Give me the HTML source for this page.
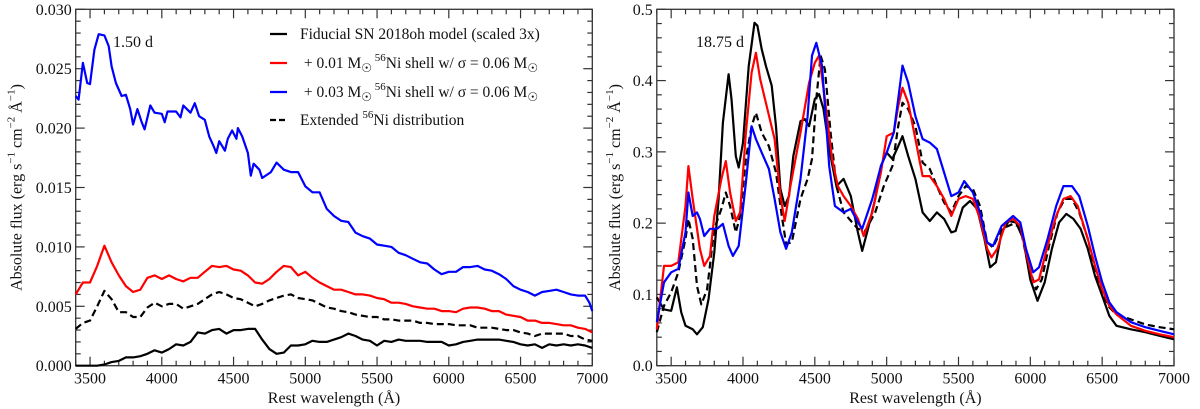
<!DOCTYPE html>
<html><head><meta charset="utf-8"><style>
html,body{margin:0;padding:0;background:#fff;}
svg{display:block;font-family:"Liberation Serif",serif;}
.pre{white-space:pre;}
</style></head><body>
<svg id="chart" width="1200" height="409" viewBox="0 0 1200 409" xmlns="http://www.w3.org/2000/svg"></svg>
<script>
// ---- Left panel data (1.50 d) ----
const leftWave = [3400,3450,3500,3550,3600,3650,3700,3750,3800,3850,3900,3950,4000,4050,4100,4150,4200,4250,4300,4350,4400,4450,4500,4550,4600,4650,4700,4750,4800,4850,4900,4950,5000,5050,5100,5150,5200,5250,5300,5350,5400,5450,5500,5550,5600,5650,5700,5750,5800,5850,5900,5950,6000,6050,6100,6150,6200,6250,6300,6350,6400,6450,6500,6550,6600,6650,6700,6750,6800,6850,6900,6950,7000];
const leftBlueWave = [3400,3420,3450,3480,3500,3530,3560,3600,3630,3650,3680,3720,3750,3780,3800,3830,3860,3880,3920,3950,4000,4020,4040,4100,4130,4150,4200,4230,4260,4300,4330,4360,4380,4400,4420,4440,4460,4490,4520,4530,4560,4600,4620,4640,4680,4700,4760,4800,4850,4900,4950,5000,5050,5100,5150,5200,5250,5300,5350,5400,5450,5500,5550,5600,5650,5700,5750,5800,5850,5900,5950,6000,6050,6100,6150,6200,6250,6300,6350,6400,6450,6500,6550,6600,6650,6700,6750,6800,6850,6900,6950,6980,7000];
const leftBlue = [0.0227,0.0224,0.0255,0.0238,0.0237,0.0266,0.0279,0.0278,0.0269,0.0252,0.0238,0.0227,0.0228,0.0216,0.0203,0.0216,0.0205,0.0199,0.0219,0.0213,0.0212,0.0205,0.0214,0.0214,0.0209,0.0219,0.0213,0.0221,0.021,0.0207,0.0193,0.0185,0.0179,0.0189,0.0185,0.0181,0.0191,0.0198,0.0191,0.02,0.0193,0.0179,0.016,0.017,0.0165,0.0158,0.0163,0.0171,0.0165,0.0163,0.0163,0.0151,0.0146,0.0146,0.0132,0.0126,0.0122,0.0121,0.0112,0.0109,0.0107,0.0102,0.0101,0.01,0.0095,0.0093,0.009,0.0087,0.0086,0.0081,0.0077,0.0079,0.0079,0.0083,0.0083,0.0084,0.0081,0.008,0.0077,0.0073,0.0067,0.0064,0.0062,0.0059,0.0062,0.0063,0.0064,0.0062,0.006,0.0059,0.0059,0.0053,0.0046];
const leftRed = [0.006,0.007,0.007,0.0084,0.0101,0.0087,0.0076,0.0067,0.0062,0.0064,0.0074,0.0076,0.0073,0.0076,0.0073,0.0071,0.0074,0.0074,0.0079,0.0084,0.0083,0.0084,0.0081,0.008,0.0076,0.007,0.0069,0.0073,0.0079,0.0084,0.0083,0.0076,0.0079,0.0074,0.007,0.0067,0.0064,0.0064,0.0062,0.006,0.006,0.0059,0.0057,0.0056,0.0053,0.0053,0.0052,0.005,0.0049,0.0048,0.0048,0.0046,0.0046,0.0045,0.0048,0.0049,0.0049,0.0048,0.0046,0.0046,0.0043,0.0042,0.0041,0.0038,0.0038,0.0036,0.0036,0.0035,0.0034,0.0034,0.0032,0.0031,0.0028];
const leftDash = [0.0031,0.0036,0.0038,0.005,0.0063,0.0056,0.0045,0.0045,0.0041,0.0041,0.0049,0.0053,0.005,0.0052,0.0052,0.0048,0.005,0.0052,0.0056,0.006,0.0062,0.006,0.0057,0.0056,0.0053,0.005,0.0052,0.0055,0.0057,0.0059,0.006,0.0057,0.0056,0.0055,0.0052,0.0049,0.0048,0.0046,0.0045,0.0043,0.0042,0.0041,0.0041,0.0039,0.0039,0.0038,0.0038,0.0038,0.0036,0.0036,0.0035,0.0035,0.0035,0.0034,0.0034,0.0034,0.0032,0.0032,0.0032,0.0031,0.003,0.003,0.0028,0.0027,0.0025,0.0027,0.0027,0.0027,0.0027,0.0025,0.0025,0.0022,0.0021];
const leftBlack = [0,0,0,0,0.0001,0.0003,0.0004,0.0007,0.0007,0.0008,0.001,0.0013,0.0011,0.0014,0.0018,0.0017,0.002,0.0028,0.0027,0.003,0.0031,0.0027,0.003,0.003,0.0031,0.0031,0.0022,0.0014,0.001,0.0011,0.0017,0.0017,0.0018,0.0021,0.002,0.002,0.0022,0.0024,0.0027,0.0025,0.0022,0.0021,0.0017,0.0021,0.002,0.0022,0.0021,0.0021,0.0021,0.002,0.002,0.002,0.0017,0.0018,0.002,0.0021,0.0022,0.0022,0.0022,0.0022,0.0021,0.002,0.0018,0.0017,0.0018,0.0015,0.0018,0.0017,0.0018,0.0017,0.0018,0.0017,0.0015];
const leftYTicks = [0,0.005,0.01,0.015,0.02,0.025,0.03];
const leftYLabels = ["0.000","0.005","0.010","0.015","0.020","0.025","0.030"];

// ---- Right panel data (18.75 d) ----
const rBlackWave = [3400,3450,3500,3540,3570,3600,3650,3680,3720,3760,3800,3830,3860,3900,3920,3950,3970,4000,4040,4080,4100,4130,4160,4200,4230,4260,4290,4320,4350,4400,4430,4460,4500,4530,4560,4600,4650,4700,4750,4800,4830,4870,4920,4960,5000,5040,5080,5110,5150,5200,5250,5300,5350,5400,5450,5480,5530,5580,5630,5680,5720,5760,5800,5850,5900,5950,6000,6050,6100,6150,6200,6250,6300,6350,6400,6450,6500,6550,6600,6700,6800,6900,7000];
const rBlack = [0.096,0.079,0.077,0.11,0.075,0.056,0.051,0.044,0.054,0.093,0.159,0.234,0.341,0.409,0.374,0.294,0.278,0.313,0.42,0.481,0.477,0.444,0.42,0.393,0.336,0.248,0.224,0.238,0.294,0.343,0.346,0.336,0.374,0.381,0.36,0.304,0.252,0.262,0.238,0.187,0.161,0.192,0.234,0.28,0.299,0.29,0.308,0.322,0.294,0.262,0.215,0.203,0.215,0.206,0.187,0.189,0.222,0.231,0.22,0.178,0.138,0.145,0.187,0.203,0.201,0.178,0.121,0.091,0.117,0.164,0.201,0.213,0.206,0.192,0.164,0.126,0.098,0.07,0.056,0.051,0.047,0.042,0.037];
const rRedWave = [3400,3450,3500,3550,3600,3620,3650,3700,3730,3770,3800,3850,3880,3910,3950,3980,4020,4060,4090,4120,4170,4220,4260,4290,4330,4400,4460,4500,4530,4570,4620,4660,4700,4750,4800,4840,4900,4960,5000,5050,5080,5110,5150,5200,5250,5300,5350,5400,5450,5500,5550,5600,5650,5700,5730,5770,5830,5880,5930,5970,6020,6060,6120,6180,6230,6280,6330,6400,6450,6500,6550,6600,6700,6800,6900,7000];
const rRed = [0.051,0.14,0.14,0.145,0.224,0.28,0.234,0.164,0.14,0.154,0.21,0.262,0.287,0.243,0.203,0.215,0.327,0.411,0.439,0.402,0.36,0.318,0.238,0.203,0.252,0.327,0.397,0.425,0.435,0.374,0.29,0.252,0.238,0.224,0.206,0.182,0.215,0.271,0.322,0.327,0.364,0.39,0.369,0.318,0.266,0.266,0.252,0.234,0.21,0.234,0.238,0.234,0.206,0.164,0.152,0.164,0.201,0.206,0.196,0.159,0.117,0.121,0.168,0.21,0.234,0.238,0.224,0.178,0.14,0.107,0.084,0.072,0.056,0.049,0.044,0.04];
const rBlueWave = [3400,3450,3500,3550,3600,3620,3650,3680,3700,3730,3770,3820,3860,3900,3930,3970,4020,4060,4090,4130,4180,4220,4260,4300,4340,4400,4450,4480,4510,4550,4600,4640,4700,4750,4800,4830,4900,4960,5000,5050,5080,5110,5150,5200,5250,5300,5350,5400,5450,5500,5540,5600,5650,5700,5740,5800,5880,5930,5970,6020,6060,6120,6180,6230,6290,6340,6400,6450,6500,6550,6600,6700,6800,6900,7000];
const rBlue = [0.061,0.117,0.131,0.136,0.187,0.243,0.21,0.215,0.206,0.182,0.192,0.192,0.199,0.168,0.154,0.168,0.257,0.336,0.318,0.299,0.276,0.234,0.187,0.164,0.187,0.262,0.35,0.435,0.453,0.421,0.28,0.224,0.215,0.22,0.201,0.192,0.234,0.28,0.299,0.327,0.374,0.421,0.397,0.35,0.318,0.313,0.304,0.271,0.238,0.243,0.259,0.243,0.215,0.173,0.168,0.196,0.21,0.201,0.164,0.131,0.138,0.178,0.224,0.252,0.252,0.238,0.196,0.154,0.117,0.089,0.075,0.061,0.054,0.049,0.044];
const rDashWave = [3400,3450,3500,3550,3600,3620,3650,3680,3710,3750,3800,3850,3880,3910,3950,3980,4020,4060,4090,4130,4180,4230,4270,4300,4340,4400,4450,4480,4510,4540,4570,4610,4650,4700,4760,4800,4850,4920,4980,5040,5080,5110,5150,5200,5250,5300,5350,5400,5450,5500,5550,5600,5650,5700,5740,5800,5880,5930,5980,6040,6080,6130,6190,6240,6290,6340,6400,6450,6500,6550,6600,6700,6800,6900,7000];
const rDash = [0.047,0.084,0.103,0.131,0.178,0.206,0.178,0.112,0.086,0.107,0.192,0.22,0.243,0.224,0.187,0.21,0.29,0.336,0.355,0.327,0.308,0.271,0.21,0.171,0.173,0.234,0.262,0.29,0.374,0.435,0.416,0.327,0.252,0.215,0.201,0.192,0.189,0.215,0.252,0.28,0.336,0.369,0.36,0.336,0.285,0.276,0.252,0.229,0.215,0.238,0.252,0.248,0.224,0.173,0.166,0.192,0.199,0.194,0.145,0.107,0.121,0.168,0.215,0.234,0.234,0.215,0.178,0.136,0.103,0.082,0.072,0.065,0.058,0.054,0.051];
const rightYTicks = [0,0.1,0.2,0.3,0.4,0.5];
const rightYLabels = ["0.0","0.1","0.2","0.3","0.4","0.5"];
const xTicks = [3500,4000,4500,5000,5500,6000,6500,7000];

const NS = "http://www.w3.org/2000/svg";
const svgEl = document.getElementById('chart');
function mk(tag, attrs, parent){ const e=document.createElementNS(NS,tag); for(const k in attrs) e.setAttribute(k,attrs[k]); (parent||svgEl).appendChild(e); return e; }

const plotTop=9.3, plotBot=365.7;
function makePanel(name, x0, x1, ymax, yTicks, yLabels, yMinor, titleOff){
  const g = mk('g',{});
  
  
  const sx = w => x0 + (w-3400)/3600*(x1-x0);
  const sy = v => plotBot - v/ymax*(plotBot-plotTop);
  for(let w=3400; w<=7000; w+=100){
    const major = w%500===0;
    const L = major?9:5;
    const t1 = mk('line',{x1:sx(w),x2:sx(w),y1:plotBot,y2:plotBot-L,stroke:'#333','stroke-width':1.2},g);
    
    
    const t2 = mk('line',{x1:sx(w),x2:sx(w),y1:plotTop,y2:plotTop+L,stroke:'#333','stroke-width':1.2},g);
    
    
  }
  xTicks.forEach(w=>{
    const t = mk('text',{x:sx(w),y:plotBot+18,'text-anchor':'middle','font-size':16,fill:'#111'},g);
    t.textContent = w;
    
    
  });
  const n = Math.round(ymax/yMinor);
  for(let i=0;i<=n;i++){
    const v=i*yMinor;
    const major = yTicks.some(t=>Math.abs(t-v)<1e-9);
    const L = major?9:5;
    const a = mk('line',{x1:x0,x2:x0+L,y1:sy(v),y2:sy(v),stroke:'#333','stroke-width':1.2},g);
    
    
    const b = mk('line',{x1:x1,x2:x1-L,y1:sy(v),y2:sy(v),stroke:'#333','stroke-width':1.2},g);
    
    
  }
  yTicks.forEach((v,i)=>{
    const t = mk('text',{x:x0-4,y:sy(v)+5.5,'text-anchor':'end','font-size':16,fill:'#111'},g);
    t.textContent = yLabels[i];
    
    
  });
  const fr = mk('rect',{x:x0,y:plotTop,width:x1-x0,height:plotBot-plotTop,fill:'none',stroke:'#333','stroke-width':1.3},g);
  
  
  const xt = mk('text',{x:(x0+x1)/2,y:403,'text-anchor':'middle','font-size':16,fill:'#111'},g);
  xt.textContent = 'Rest wavelength (Å)';
  
  
  const yt = mk('text',{x:0,y:0,'text-anchor':'middle','font-size':16,fill:'#111',transform:'translate('+(x0-titleOff)+','+((plotTop+plotBot)/2)+') rotate(-90)'},g);
  yt.innerHTML = 'Absolute flux (erg s<tspan dy="-7" font-size="11">−1</tspan><tspan dy="7"> cm</tspan><tspan dy="-7" font-size="11">−2</tspan><tspan dy="7"> Å</tspan><tspan dy="-7" font-size="11">−1</tspan><tspan dy="7">)</tspan>';
  
  
  return {g:g,sx:sx,sy:sy};
}
function series(p, waves, vals, color, dash, name){
  const d = waves.map((w,i)=>(i?'L':'M')+p.sx(w).toFixed(1)+' '+p.sy(vals[i]).toFixed(1)).join(' ');
  const a = {d:d, fill:'none', stroke:color, 'stroke-width':2.2, 'stroke-linejoin':'round'};
  if(dash) a['stroke-dasharray']='7 4';
  const e = mk('path', a, p.g);
  
  
}

const LP = makePanel('left-panel', 75.7, 592.3, 0.03, leftYTicks, leftYLabels, 0.001, 54);
series(LP, leftWave, leftBlack, '#000', false, 'fiducial-line-1.50d');
series(LP, leftWave, leftDash, '#000', true, 'extended-ni-line-1.50d');
series(LP, leftWave, leftRed, '#f00', false, 'ni-0.01-line-1.50d');
series(LP, leftBlueWave, leftBlue, '#00f', false, 'ni-0.03-line-1.50d');
const lbl1 = mk('text',{x:113,y:47,'font-size':16,fill:'#111'},LP.g);
lbl1.textContent='1.50 d';



const RP = makePanel('right-panel', 656.8, 1174, 0.5, rightYTicks, rightYLabels, 0.02, 37);
series(RP, rBlackWave, rBlack, '#000', false, 'fiducial-line-18.75d');
series(RP, rDashWave, rDash, '#000', true, 'extended-ni-line-18.75d');
series(RP, rRedWave, rRed, '#f00', false, 'ni-0.01-line-18.75d');
series(RP, rBlueWave, rBlue, '#00f', false, 'ni-0.03-line-18.75d');
const lbl2 = mk('text',{x:696,y:47,'font-size':16,fill:'#111'},RP.g);
lbl2.textContent='18.75 d';



const leg = mk('g',{});


const legRows = [
  {c:'#000',d:false,h:'Fiducial SN 2018oh model (scaled 3x)',n:'legend-entry-fiducial'},
  {c:'#f00',d:false,h:' + 0.01 M<tspan dy="4" font-size="12">☉</tspan><tspan dy="-11" font-size="11"> 56</tspan><tspan dy="7">Ni shell w/ σ = 0.06 M</tspan><tspan dy="4" font-size="12">☉</tspan>',n:'legend-entry-ni-001'},
  {c:'#00f',d:false,h:' + 0.03 M<tspan dy="4" font-size="12">☉</tspan><tspan dy="-11" font-size="11"> 56</tspan><tspan dy="7">Ni shell w/ σ = 0.06 M</tspan><tspan dy="4" font-size="12">☉</tspan>',n:'legend-entry-ni-003'},
  {c:'#000',d:true,h:'Extended <tspan dy="-7" font-size="11">56</tspan><tspan dy="7">Ni distribution</tspan>',n:'legend-entry-extended'}
];
const legY=[34,63,92,120];
legRows.forEach((r,i)=>{
  const row = mk('g',{},leg);
  
  
  const a={x1:270,x2:287,y1:legY[i],y2:legY[i],stroke:r.c,'stroke-width':2.2};
  if(r.d) a['stroke-dasharray']='6 3';
  mk('line',a,row);
  const t = mk('text',{x:300,y:legY[i]+5,'font-size':15.5,fill:'#111','class':'pre'},row);
  t.innerHTML = r.h;
});
</script>
</body></html>
